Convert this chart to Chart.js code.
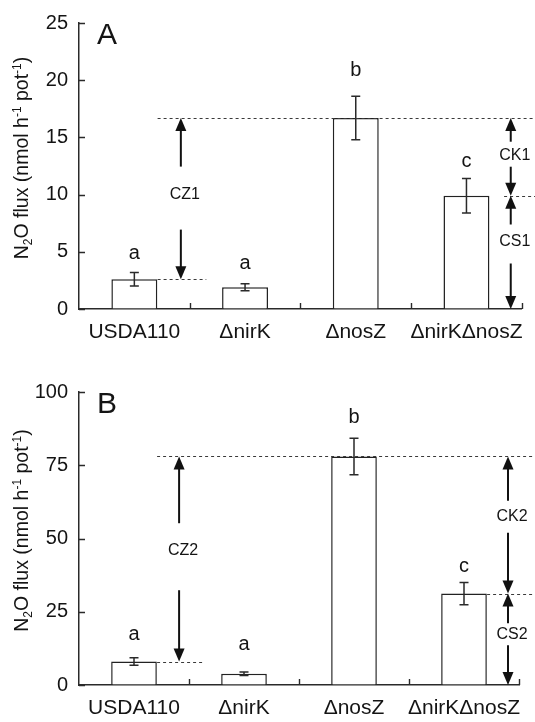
<!DOCTYPE html>
<html>
<head>
<meta charset="utf-8">
<script src="https://cdn.jsdelivr.net/npm/chart.js@4.4.1/dist/chart.umd.min.js"></script>
<style>
  html, body { margin: 0; padding: 0; background: #fff; }
  .panel { position: absolute; left: 0; width: 535px; height: 361px; }
  #panelA { top: 0; }
  #panelB { top: 361px; }
</style>
</head>
<body>
<div class="panel" id="panelA"><canvas id="chartA"></canvas></div>
<div class="panel" id="panelB"><canvas id="chartB"></canvas></div>
<script>
const categories = ['USDA110', 'ΔnirK', 'ΔnosZ', 'ΔnirKΔnosZ'];
const letters = ['a', 'a', 'b', 'c'];

// Panel A values (nmol h-1 pot-1)
const fluxA = [2.6, 1.9, 16.7, 9.9];
const errA = [0.6, 0.3, 1.9, 1.5];
const letterYA = [4.4, 3.5, 20.4, 12.4];
const ticksA = [0, 5, 10, 15, 20, 25];
const arrowLabelsA = ['CZ1', 'CK1', 'CS1'];
const arrowTextYA = [10.0, 13.4, 5.9];

// Panel B values
const fluxB = [8.0, 3.8, 78.0, 31.2];
const errB = [1.3, 0.6, 6.2, 3.8];
const letterYB = [15.3, 11.9, 89.3, 38.4];
const ticksB = [0, 25, 50, 75, 100];
const arrowLabelsB = ['CZ2', 'CK2', 'CS2'];
const arrowTextYB = [46, 57.4, 17.3];

const FONT = "'Liberation Sans', Arial, sans-serif";
const INK = '#141414';
const LINE = '#2a2a2a';

/**
 * Arrow spans: CZ between wild type and nosZ, CK between nosZ and double mutant,
 * CS between double mutant and zero
 */
function buildArrows(flux, labels, textY, layout) {
  return [
    { label: labels[0], x: layout.czX, lo: flux[0], hi: flux[2], text: textY[0], gap: layout.gaps[0] },
    { label: labels[1], x: layout.ckX, lo: flux[3], hi: flux[2], text: textY[1], gap: layout.gaps[1] },
    { label: labels[2], x: layout.ckX, lo: 0, hi: flux[3], text: textY[2], gap: layout.gaps[2] }
  ];
}

function buildDashes(flux, layout) {
  return [
    { v: flux[2], from: layout.dashFrom, to: null },
    { v: flux[0], from: layout.dashFrom, to: layout.lowDashTo },
    { v: flux[3], from: layout.midDashFrom, to: null }
  ];
}

/**
 * Error bars with caps
 */
function drawErrorBars(chart, opts) {
  const ctx = chart.ctx;
  const xs = chart.scales.x;
  const ys = chart.scales.y;
  const values = chart.data.datasets[0].data;
  ctx.save();
  ctx.strokeStyle = LINE;
  ctx.lineWidth = 1.5;
  values.forEach((v, i) => {
    const x = xs.getPixelForValue(i);
    const yTop = ys.getPixelForValue(v + opts.err[i]);
    const yBot = ys.getPixelForValue(v - opts.err[i]);
    ctx.beginPath();
    ctx.moveTo(x, yTop);
    ctx.lineTo(x, yBot);
    ctx.moveTo(x - 4.5, yTop);
    ctx.lineTo(x + 4.5, yTop);
    ctx.moveTo(x - 4.5, yBot);
    ctx.lineTo(x + 4.5, yBot);
    ctx.stroke();
  });
  ctx.restore();
}

/**
 * Short tick marks pointing into the plot
 */
function drawInwardTicks(chart) {
  const ctx = chart.ctx;
  const xs = chart.scales.x;
  const ys = chart.scales.y;
  const area = chart.chartArea;
  ctx.save();
  ctx.strokeStyle = LINE;
  ctx.lineWidth = 1.4;
  ctx.beginPath();
  ys.ticks.forEach(t => {
    const y = Math.round(ys.getPixelForValue(t.value)) + 0.5;
    ctx.moveTo(area.left, y);
    ctx.lineTo(area.left + 6, y);
  });
  for (let i = 0; i < categories.length; i++) {
    const x = Math.round(xs.getPixelForValue(i + 0.5)) + 0.5;
    ctx.moveTo(x, area.bottom);
    ctx.lineTo(x, area.bottom - 6);
  }
  ctx.stroke();
  ctx.restore();
}

function drawDashes(chart, opts) {
  const ctx = chart.ctx;
  const xs = chart.scales.x;
  const ys = chart.scales.y;
  ctx.save();
  ctx.strokeStyle = '#3a3a3a';
  ctx.lineWidth = 1;
  ctx.setLineDash([3, 3]);
  opts.dashes.forEach(d => {
    const y = Math.round(ys.getPixelForValue(d.v)) + 0.5;
    const x0 = xs.getPixelForValue(d.from);
    const x1 = d.to === null ? chart.width : xs.getPixelForValue(d.to);
    ctx.beginPath();
    ctx.moveTo(x0, y);
    ctx.lineTo(x1, y);
    ctx.stroke();
  });
  ctx.restore();
}

function arrowHead(ctx, x, yTip, dir) {
  // dir = -1 points up, +1 points down
  ctx.beginPath();
  ctx.moveTo(x, yTip);
  ctx.lineTo(x - 5.5, yTip - dir * 13);
  ctx.lineTo(x + 5.5, yTip - dir * 13);
  ctx.closePath();
  ctx.fill();
}

function drawArrows(chart, opts) {
  const ctx = chart.ctx;
  const xs = chart.scales.x;
  const ys = chart.scales.y;
  ctx.save();
  ctx.strokeStyle = '#111';
  ctx.fillStyle = '#111';
  ctx.lineWidth = 2;
  ctx.font = '16px ' + FONT;
  ctx.textAlign = 'center';
  ctx.textBaseline = 'middle';
  opts.arrows.forEach(a => {
    const x = xs.getPixelForValue(a.x);
    const yHi = ys.getPixelForValue(a.hi);
    const yLo = ys.getPixelForValue(a.lo);
    const yText = ys.getPixelForValue(a.text);
    // upper arrow, pointing up
    ctx.beginPath();
    ctx.moveTo(x, yText - a.gap[0]);
    ctx.lineTo(x, yHi + 10);
    ctx.stroke();
    arrowHead(ctx, x, yHi, -1);
    // lower arrow, pointing down
    ctx.beginPath();
    ctx.moveTo(x, yText + a.gap[1]);
    ctx.lineTo(x, yLo - 10);
    ctx.stroke();
    arrowHead(ctx, x, yLo, 1);
    ctx.fillStyle = INK;
    ctx.fillText(a.label, x + 4, yText);
    ctx.fillStyle = '#111';
  });
  ctx.restore();
}

function drawLetters(chart, opts) {
  const ctx = chart.ctx;
  const xs = chart.scales.x;
  const ys = chart.scales.y;
  ctx.save();
  ctx.fillStyle = INK;
  ctx.font = '20px ' + FONT;
  ctx.textAlign = 'center';
  ctx.textBaseline = 'alphabetic';
  letters.forEach((l, i) => {
    ctx.fillText(l, xs.getPixelForValue(i), ys.getPixelForValue(opts.letterY[i]));
  });
  ctx.restore();
}

function drawPanelLabel(chart, opts) {
  const ctx = chart.ctx;
  const area = chart.chartArea;
  ctx.save();
  ctx.fillStyle = INK;
  ctx.font = '30px ' + FONT;
  ctx.textAlign = 'left';
  ctx.textBaseline = 'alphabetic';
  ctx.fillText(opts.panel, area.left + 18, area.top + 21);
  ctx.restore();
}

/**
 * Rotated y-axis title with sub- and superscripts
 */
function drawYTitle(chart, opts) {
  const ctx = chart.ctx;
  const area = chart.chartArea;
  const size = 19.5;
  const small = 12;
  const parts = [
    { t: 'N', s: 0 }, { t: '2', s: 1 }, { t: 'O flux (nmol h', s: 0 },
    { t: '-1', s: -1 }, { t: ' pot', s: 0 }, { t: '-1', s: -1 }, { t: ')', s: 0 }
  ];
  ctx.save();
  let total = 0;
  parts.forEach(p => {
    ctx.font = (p.s ? small : size) + 'px ' + FONT;
    p.w = ctx.measureText(p.t).width;
    total += p.w;
  });
  const cy = (area.top + area.bottom) / 2 + opts.titleShift;
  ctx.translate(opts.titleX, cy);
  ctx.rotate(-Math.PI / 2);
  ctx.fillStyle = INK;
  ctx.textBaseline = 'alphabetic';
  ctx.textAlign = 'left';
  let x = -total / 2;
  parts.forEach(p => {
    ctx.font = (p.s ? small : size) + 'px ' + FONT;
    let y = size * 0.36;
    if (p.s === 1) y += 4;
    if (p.s === -1) y -= 7;
    ctx.fillText(p.t, x, y);
    x += p.w;
  });
  ctx.restore();
}

const panelDecor = {
  id: 'panelDecor',
  afterDatasetsDraw(chart, args, opts) {
    drawErrorBars(chart, opts);
  },
  afterDraw(chart, args, opts) {
    drawInwardTicks(chart);
    drawDashes(chart, opts);
    drawArrows(chart, opts);
    drawLetters(chart, opts);
    drawPanelLabel(chart, opts);
    drawYTitle(chart, opts);
  }
};

/**
 * Create one panel
 */
function makePanel(canvasId, flux, cfg) {
  const ctx = document.getElementById(canvasId);
  return new Chart(ctx, {
    type: 'bar',
    data: {
      labels: categories,
      datasets: [{
        data: flux,
        backgroundColor: '#ffffff',
        borderColor: '#222',
        borderWidth: 1.5,
        categoryPercentage: 1,
        barPercentage: 0.415
      }]
    },
    plugins: [panelDecor],
    options: {
      responsive: true,
      maintainAspectRatio: false,
      animation: false,
      devicePixelRatio: 1,
      layout: { padding: { top: cfg.padTop, right: cfg.padRight, left: 0, bottom: 0 } },
      plugins: {
        legend: { display: false },
        tooltip: { enabled: false },
        panelDecor: cfg.decor
      },
      scales: {
        x: {
          offset: true,
          grid: { display: true, drawOnChartArea: false, drawTicks: false, offset: true },
          border: { display: true, color: LINE, width: 1.5 },
          ticks: { color: INK, font: { family: FONT, size: 21 }, padding: 11, maxRotation: 0, autoSkip: false },
          afterFit(scale) { scale.height = cfg.xHeight; }
        },
        y: {
          min: cfg.ticks[0],
          max: cfg.ticks[cfg.ticks.length - 1],
          grid: { display: true, drawOnChartArea: false, drawTicks: false },
          border: { display: true, color: LINE, width: 1.5 },
          ticks: { color: INK, font: { family: FONT, size: 20 }, padding: 11, stepSize: cfg.ticks[1] - cfg.ticks[0] },
          afterBuildTicks(scale) { scale.ticks = cfg.ticks.map(v => ({ value: v })); },
          afterFit(scale) { scale.width = 79; }
        }
      }
    }
  });
}

const layoutA = { czX: 0.42, ckX: 3.40, gaps: [[28, 35], [14, 11], [17, 22]], dashFrom: 0.21, lowDashTo: 0.65, midDashFrom: 3.34 };
const layoutB = { czX: 0.41, ckX: 3.40, gaps: [[27, 40], [16, 16], [11, 11]], dashFrom: 0.21, lowDashTo: 0.63, midDashFrom: 3.21 };

makePanel('chartA', fluxA, {
  ticks: ticksA, padTop: 19, padRight: 12, xHeight: 52,
  decor: {
    panel: 'A', err: errA, letterY: letterYA, titleX: 21, titleShift: -8,
    arrows: buildArrows(fluxA, arrowLabelsA, arrowTextYA, layoutA),
    dashes: buildDashes(fluxA, layoutA)
  }
});

makePanel('chartB', fluxB, {
  ticks: ticksB, padTop: 31, padRight: 16, xHeight: 37,
  decor: {
    panel: 'B', err: errB, letterY: letterYB, titleX: 21, titleShift: -8,
    arrows: buildArrows(fluxB, arrowLabelsB, arrowTextYB, layoutB),
    dashes: buildDashes(fluxB, layoutB)
  }
});
</script>
</body>
</html>
